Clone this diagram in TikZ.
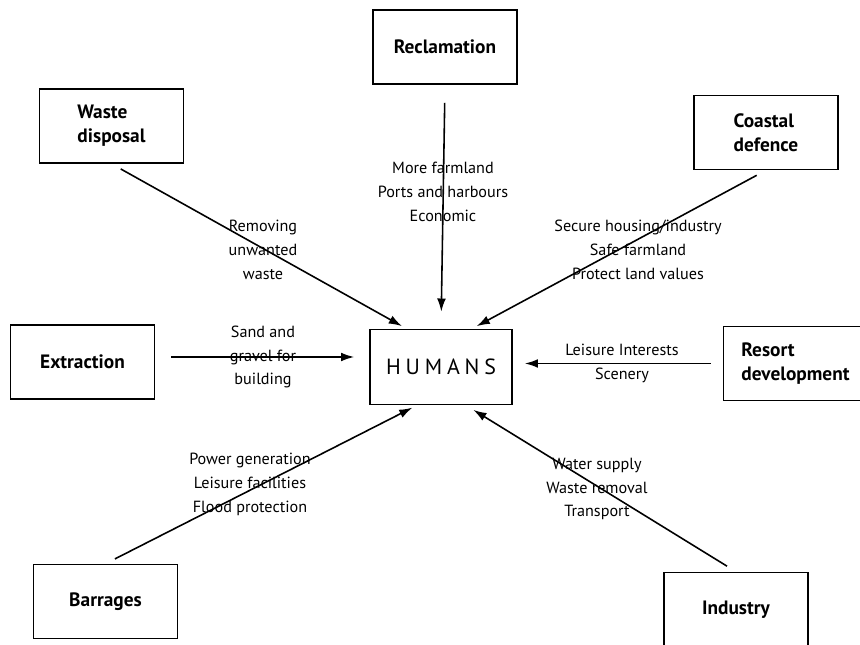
\documentclass[tikz,border=0pt]{standalone}
\usepackage{fontspec}
\setmainfont{PT Sans}
\usetikzlibrary{arrows.meta}

\begin{document}
\begin{tikzpicture}[
    place/.style={draw, line width=0.9pt, minimum width=2.88cm, minimum height=1.48cm, align=left, font=\bfseries\fontsize{11}{13.6}\selectfont},
    why/.style={align=center, inner sep=1pt, font=\fontsize{9.2}{13.6}\selectfont},
    arr/.style={-{Latex[length=7.5pt, width=5pt]}, line width=0.9pt, shorten <=6pt, shorten >=3pt}
]
\useasboundingbox (0,0) rectangle (17.2,12.9);
\fill[white] (0,0) rectangle (17.2,12.9);

\node[place] (recl) at (8.9,11.96) {Reclamation};
\node[place] (waste) at (2.23,10.38) {Waste\\disposal};
\node[place] (coast) at (15.32,10.25) {Coastal\\defence};
\node[place] (extr) at (1.65,5.66) {Extraction};
\node[place, minimum width=2.84cm, minimum height=1.5cm, font=\fontsize{12.5}{14}\selectfont\addfontfeature{LetterSpace=22}] (humans) at (8.82,5.56) {HUMANS};
\node[place] (resort) at (15.91,5.63) {Resort\\development};
\node[place] (barr) at (2.11,0.87) {Barrages};
\node[place, minimum height=1.5cm] (ind) at (14.72,0.7) {Industry};

\node[why] (lwaste) at (5.26,7.9) {Removing\\unwanted\\waste};
\node[why] (lrecl) at (8.86,9.06) {More farmland\\Ports and harbours\\Economic};
\node[why] (lcoast) at (12.76,7.9) {Secure housing/industry\\Safe farmland\\Protect land values};
\node[why] (lextr) at (5.26,5.76) {Sand and\\gravel for\\building};
\node[why] (lresort) at (12.44,5.64) {Leisure Interests\\Scenery};
\node[why] (lbarr) at (5.0,3.22) {Power generation\\Leisure facilities\\Flood protection};
\node[why] (lind) at (11.94,3.12) {Water supply\\Waste removal\\Transport};

\draw[arr] (waste.south) -- (humans.132);
\draw[arr, shorten <=0.36cm, shorten >=0.34cm] (recl.south) -- (humans.north);
\draw[arr] (coast.south) -- (humans.51);
\draw[arr, shorten <=0.32cm, shorten >=0.3cm] ([yshift=0.1cm]extr.east) -- ([yshift=0.1cm]extr.east -| humans.west);
\draw[arr, shorten <=0.24cm, shorten >=0.24cm] (resort.west) -- (resort.west -| humans.east);
\draw[arr] (barr.north) -- (humans.238);
\draw[arr, shorten >=5pt] (ind.north) -- (humans.303);
\end{tikzpicture}
\end{document}
